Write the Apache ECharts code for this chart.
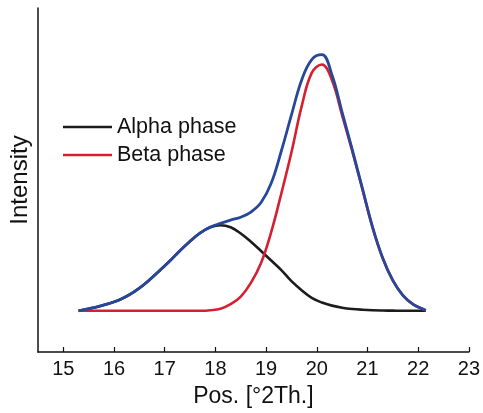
<!DOCTYPE html>
<html><head><meta charset="utf-8">
<script src="https://cdn.jsdelivr.net/npm/echarts@6/dist/echarts.min.js"></script>
<style>html,body{margin:0;padding:0;background:#fff}#c{width:483px;height:413px}</style>
</head><body><div id="c"></div>
<script>
var xPos = [15.3,15.5,15.7,15.9,16.1,16.3,16.5,16.7,16.9,17.1,17.3,17.5,17.7,17.9,18.1,18.3,18.5,18.7,18.9,19.1,19.3,19.5,19.7,19.9,20.1,20.3,20.5,20.7,20.9,21.1,21.3,21.5,21.7,21.9,22.1,22.15];
var alpha = [0,0.8,1.7,2.8,4.2,6.2,8.8,12.0,15.6,19.3,23.3,27.0,30.2,32.4,33.2,32.4,30.0,26.8,23.2,19.5,15.8,11.5,8.0,5.0,3.2,2.0,1.2,0.7,0.4,0.2,0.1,0.05,0,0,0,0];
var beta = [0,0,0,0,0,0,0,0,0,0,0,0,0,0.2,0.8,2.6,5.5,10.8,18.5,30.5,45.5,61.5,79.2,92.3,95.6,89.5,75.8,61.8,47.1,32.3,20.4,11.7,5.9,2.5,0.6,0.2];
var total = [0,0.8,1.7,2.8,4.2,6.2,8.8,12.0,15.6,19.3,23.3,27.0,30.2,32.5,33.9,35.2,36.3,38.3,42.0,49.5,62.0,76.0,89.5,97.5,99.4,91.5,77.0,62.5,47.5,32.5,20.5,11.8,6.0,2.5,0.6,0.2];
var xTicks = [15,16,17,18,19,20,21,22,23];
var legendNames = ['Alpha phase','Beta phase'];

function pairs(ys){ return xPos.map(function(x,i){return [x, ys[i]];}); }
var font = 'Liberation Sans, Arial, sans-serif';
var chart = echarts.init(document.getElementById('c'));
chart.setOption({
  animation:false,
  backgroundColor:'#ffffff',
  grid:{left:38,right:13,top:8,bottom:55,containLabel:false},
  legend:{
    data:legendNames, orient:'vertical', left:58, top:111,
    itemWidth:49, itemHeight:14, itemGap:6,
    icon:'path://M0,6 L49,6 L49,8.5 L0,8.5 Z',
    textStyle:{fontFamily:font,fontSize:21.5,color:'#111'},
    itemStyle:{borderWidth:0}
  },
  xAxis:{
    type:'value', min:14.5, max:23,
    name:'Pos. [°2Th.]', nameLocation:'middle', nameGap:33,
    nameTextStyle:{fontFamily:font,fontSize:23,color:'#111'},
    axisLine:{show:true,onZero:false,lineStyle:{color:'#111',width:1.5}},
    axisTick:{show:true,inside:true,length:5,customValues:xTicks,lineStyle:{color:'#111',width:1.2}},
    axisLabel:{customValues:xTicks,fontFamily:font,fontSize:20,color:'#111',margin:7},
    splitLine:{show:false}
  },
  yAxis:{
    type:'value', min:-16, max:117.5,
    name:'Intensity', nameLocation:'middle', nameGap:6, nameRotate:90,
    nameTextStyle:{fontFamily:font,fontSize:24,color:'#111'},
    axisLine:{show:true,onZero:false,lineStyle:{color:'#111',width:1.5}},
    axisTick:{show:false}, axisLabel:{show:false}, splitLine:{show:false}
  },
  series:[
    {name:'Alpha phase',type:'line',data:pairs(alpha),smooth:0.4,showSymbol:false,
     lineStyle:{color:'#1c1c1c',width:2.6},itemStyle:{color:'#1c1c1c'},z:2},
    {name:'Beta phase',type:'line',data:pairs(beta),smooth:0.4,showSymbol:false,
     lineStyle:{color:'#d42030',width:2.6},itemStyle:{color:'#d42030'},z:3},
    {name:'Total',type:'line',data:pairs(total),smooth:0.4,showSymbol:false,
     lineStyle:{color:'#27479b',width:2.8},itemStyle:{color:'#27479b'},z:4}
  ]
});
</script></body></html>
